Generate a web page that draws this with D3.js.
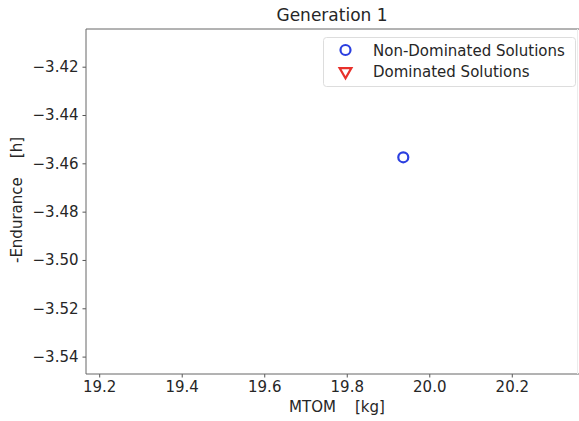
<!DOCTYPE html>
<html>
<head>
<meta charset="utf-8">
<script src="https://cdn.jsdelivr.net/npm/d3@7"></script>
<style>
body { margin: 0; background: #fff; }
text { font-family: "DejaVu Sans", sans-serif; fill: #262626; }
</style>
</head>
<body>
<div id="chart"></div>
<script>
var chartTitle = "Generation 1";
var xLabel = "MTOM    [kg]";
var yLabel = "-Endurance    [h]";
var xTicks = [19.2, 19.4, 19.6, 19.8, 20.0, 20.2];
var yTicks = [-3.42, -3.44, -3.46, -3.48, -3.50, -3.52, -3.54];
var xDomain = [19.168, 20.375];
var yDomain = [-3.5472, -3.4044];
var nonDominatedX = [19.937];
var nonDominatedY = [-3.4575];
var dominatedX = [];
var dominatedY = [];
var legendLabels = ["Non-Dominated Solutions", "Dominated Solutions"];

var width = 579, height = 421;
var margin = {left: 86, top: 29, right: 584, bottom: 374};

var svg = d3.select("#chart").append("svg")
	.attr("width", width)
	.attr("height", height);

var x = d3.scaleLinear().domain(xDomain).range([margin.left, margin.right]);
var y = d3.scaleLinear().domain(yDomain).range([margin.bottom, margin.top]);

function fmt(v) { return d3.format(".2f")(v).replace("-", "\u2212"); }

// x axis
var gx = svg.append("g")
	.attr("transform", "translate(0," + margin.bottom + ")")
	.call(d3.axisBottom(x).tickValues(xTicks).tickSize(3.5).tickPadding(4).tickFormat(d3.format(".1f")));
gx.select(".domain").remove();
gx.selectAll("line").attr("stroke", "#555");
gx.selectAll("text").style("font-size", "15px").style("font-family", "DejaVu Sans");

// y axis
var gy = svg.append("g")
	.attr("transform", "translate(" + margin.left + ",0)")
	.call(d3.axisLeft(y).tickValues(yTicks).tickSize(3.5).tickPadding(4).tickFormat(fmt));
gy.select(".domain").remove();
gy.selectAll("line").attr("stroke", "#555");
gy.selectAll("text").style("font-size", "15px").style("font-family", "DejaVu Sans");

// spines
svg.append("line").attr("x1", margin.left).attr("x2", width).attr("y1", margin.top).attr("y2", margin.top)
	.attr("stroke", "#666").attr("stroke-width", 1);
svg.append("line").attr("x1", margin.left).attr("x2", width).attr("y1", margin.bottom).attr("y2", margin.bottom)
	.attr("stroke", "#666").attr("stroke-width", 1);
svg.append("line").attr("x1", margin.left).attr("x2", margin.left).attr("y1", margin.top).attr("y2", margin.bottom)
	.attr("stroke", "#666").attr("stroke-width", 1);
svg.append("line").attr("x1", 577.5).attr("x2", 577.5).attr("y1", margin.top).attr("y2", margin.bottom)
	.attr("stroke", "#ececec").attr("stroke-width", 1);

// title and labels
svg.append("text").attr("x", 332).attr("y", 21).attr("text-anchor", "middle")
	.style("font-size", "17px").text(chartTitle);
svg.append("text").attr("x", 337).attr("y", 412).attr("text-anchor", "middle")
	.style("font-size", "15px").style("white-space", "pre").attr("xml:space", "preserve").text(xLabel);
svg.append("text").attr("transform", "translate(22,200) rotate(-90)").attr("text-anchor", "middle")
	.style("font-size", "15px").style("white-space", "pre").attr("xml:space", "preserve").text(yLabel);

// points
var tri = d3.symbol().type(d3.symbolTriangle).size(60);
svg.selectAll(".nd").data(d3.zip(nonDominatedX, nonDominatedY)).enter()
	.append("circle").attr("class", "nd")
	.attr("cx", function(d) { return x(d[0]); })
	.attr("cy", function(d) { return y(d[1]); })
	.attr("r", 5)
	.attr("fill", "none").attr("stroke", "#2b3fe0").attr("stroke-width", 2.2);
svg.selectAll(".dom").data(d3.zip(dominatedX, dominatedY)).enter()
	.append("path").attr("class", "dom")
	.attr("d", tri)
	.attr("transform", function(d) { return "translate(" + x(d[0]) + "," + y(d[1]) + ") rotate(180)"; })
	.attr("fill", "none").attr("stroke", "#e8312b").attr("stroke-width", 2.2);

// legend
var lg = svg.append("g");
lg.append("rect").attr("x", 323.5).attr("y", 37.5).attr("width", 252).attr("height", 49).attr("rx", 3)
	.attr("fill", "#fff").attr("fill-opacity", 0.8).attr("stroke", "#ddd");
lg.append("circle").attr("cx", 345.5).attr("cy", 50).attr("r", 5)
	.attr("fill", "none").attr("stroke", "#2b3fe0").attr("stroke-width", 2.2);
lg.append("path").attr("d", tri).attr("transform", "translate(345.5,71.5) rotate(180)")
	.attr("fill", "none").attr("stroke", "#e8312b").attr("stroke-width", 2.2);
lg.selectAll(".lt").data(legendLabels).enter().append("text")
	.attr("x", 373).attr("y", function(d, i) { return 55.5 + i * 21.5; })
	.style("font-size", "15px").text(function(d) { return d; });
</script>
</body>
</html>
